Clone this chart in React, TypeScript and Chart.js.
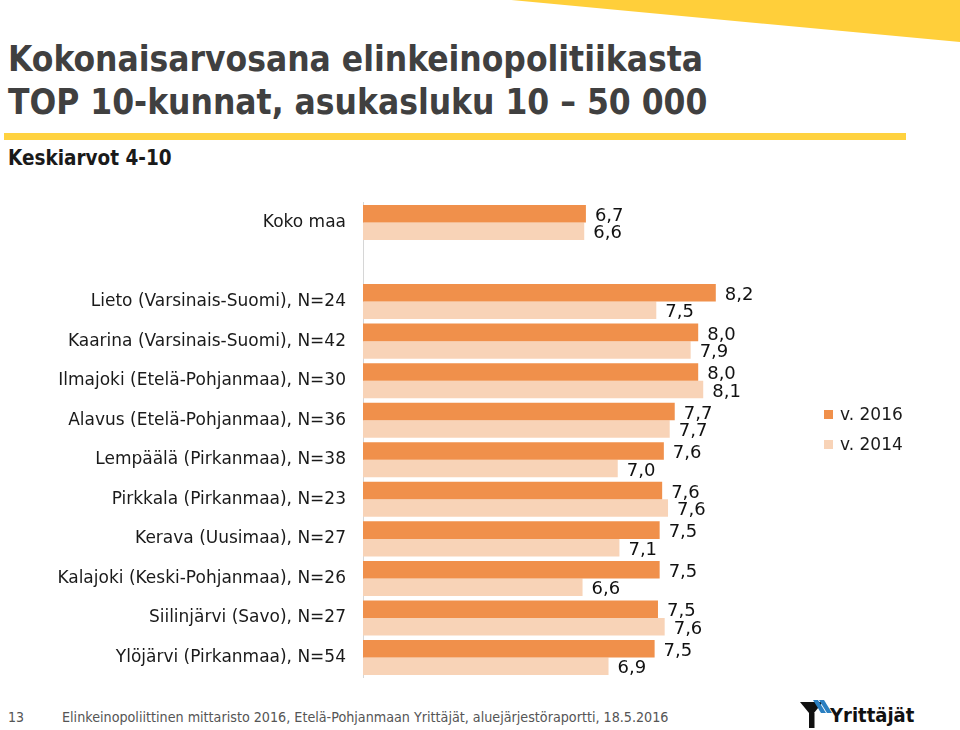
import React, { useEffect, useRef } from "react";
import { Chart, registerables } from "chart.js";

Chart.register(...registerables);

const categories = [
  "Koko maa",
  "",
  "Lieto (Varsinais-Suomi), N=24",
  "Kaarina (Varsinais-Suomi), N=42",
  "Ilmajoki (Etelä-Pohjanmaa), N=30",
  "Alavus (Etelä-Pohjanmaa), N=36",
  "Lempäälä (Pirkanmaa), N=38",
  "Pirkkala (Pirkanmaa), N=23",
  "Kerava (Uusimaa), N=27",
  "Kalajoki (Keski-Pohjanmaa), N=26",
  "Siilinjärvi (Savo), N=27",
  "Ylöjärvi (Pirkanmaa), N=54",
];

const values2016 = [6.66, null, 8.21, 8.0, 8.0, 7.72, 7.59, 7.57, 7.54, 7.54, 7.52, 7.48];
const values2014 = [6.64, null, 7.5, 7.91, 8.06, 7.66, 7.04, 7.64, 7.06, 6.62, 7.6, 6.93];

const seriesNames = ["v. 2016", "v. 2014"];
const seriesColors = ["#F0904B", "#F8D3B7"];

const axisMin = 4;
const axisMax = 9;

const fmt = (v: number) => v.toFixed(1).replace(".", ",");

const valueLabels = {
  id: "valueLabels",
  afterDatasetsDraw(chart: any) {
    const ctx = chart.ctx;
    ctx.save();
    ctx.font = '18px "DejaVu Sans"';
    ctx.fillStyle = "#111111";
    ctx.textBaseline = "middle";
    ctx.textAlign = "left";
    chart.data.datasets.forEach((ds: any, di: number) => {
      chart.getDatasetMeta(di).data.forEach((bar: any, i: number) => {
        const v = ds.data[i];
        if (v == null) return;
        ctx.fillText(fmt(v), bar.x + 9, bar.y + 2.5);
      });
    });
    ctx.restore();
  },
};

function BarChart() {
  const ref = useRef<HTMLCanvasElement | null>(null);
  useEffect(() => {
    if (!ref.current) return;
    const chart = new Chart(ref.current, {
      type: "bar",
      data: {
        labels: categories,
        datasets: [
          {
            label: seriesNames[0],
            data: values2016,
            backgroundColor: seriesColors[0],
            categoryPercentage: 0.885,
            barPercentage: 1,
          },
          {
            label: seriesNames[1],
            data: values2014,
            backgroundColor: seriesColors[1],
            categoryPercentage: 0.885,
            barPercentage: 1,
          },
        ],
      },
      options: {
        indexAxis: "y",
        animation: false,
        responsive: false,
        events: [],
        layout: { padding: { left: 0, right: 178, top: 12.7, bottom: 12.7 } },
        plugins: { legend: { display: false }, tooltip: { enabled: false } },
        scales: {
          x: { min: axisMin, max: axisMax, display: false },
          y: {
            grid: { display: false, drawTicks: false, tickLength: 0 },
            border: { display: true, color: "#d6d6d6", width: 1 },
            ticks: {
              padding: 17,
              color: "#1a1a1a",
              font: { family: "DejaVu Sans", size: 17 },
            },
            afterFit: (s: any) => {
              s.width = 363;
              s.paddingTop = 0;
              s.paddingBottom = 0;
            },
          },
        },
      } as any,
      plugins: [valueLabels],
    });
    return () => chart.destroy();
  }, []);
  return (
    <canvas
      ref={ref}
      width={960}
      height={500}
      style={{ position: "absolute", left: 0, top: 190, width: 960, height: 500 }}
    />
  );
}

export default function App() {
  const abs = (o: any) => ({ position: "absolute", margin: 0, whiteSpace: "nowrap", ...o });
  return (
    <div
      style={{
        position: "absolute",
        left: 0,
        top: 0,
        width: 960,
        height: 730,
        background: "#ffffff",
        overflow: "hidden",
        fontFamily: "DejaVu Sans",
      }}
    >
      <svg width={960} height={730} style={{ position: "absolute", left: 0, top: 0 }}>
        <polygon points="490,-2 960,-2 960,42" fill="#FFCF3A" />
        <rect x={4} y={133} width={902} height={7} fill="#FFD23F" />
        {/* logo icon */}
        <polygon points="800,702 823,702 811.5,716" fill="#111" />
        <rect x={809} y={713} width={5.5} height={15} fill="#111" />
        <polygon points="813,700 818,700 826,713 821,713" fill="#2a7fc1" />
        <polygon points="819,700 824,700 832,713 827,713" fill="#2a7fc1" />
      </svg>
      <div
        style={abs({
          left: 8,
          top: 38,
          fontFamily: "DejaVu Sans Condensed",
          fontWeight: "bold",
          fontSize: 35,
          lineHeight: "43px",
          color: "#404040",
        })}
      >
        Kokonaisarvosana elinkeinopolitiikasta
        <br />
        TOP 10-kunnat, asukasluku 10 – 50 000
      </div>
      <div
        style={abs({
          left: 8,
          top: 146,
          fontFamily: "DejaVu Sans Condensed",
          fontWeight: "bold",
          fontSize: 20.5,
          lineHeight: "24px",
          color: "#1a1a1a",
        })}
      >
        Keskiarvot 4-10
      </div>
      <BarChart />
      <div style={abs({ left: 824, top: 404, fontSize: 17, lineHeight: "20px", color: "#1a1a1a" })}>
        <div style={{ display: "flex", alignItems: "center", height: 20 }}>
          <span style={{ display: "inline-block", width: 9, height: 9, background: seriesColors[0], marginRight: 7 }} />
          {seriesNames[0]}
        </div>
        <div style={{ display: "flex", alignItems: "center", height: 20, marginTop: 10 }}>
          <span style={{ display: "inline-block", width: 9, height: 9, background: seriesColors[1], marginRight: 7 }} />
          {seriesNames[1]}
        </div>
      </div>
      <div
        style={abs({
          left: 8,
          top: 709,
          fontFamily: "DejaVu Sans Condensed",
          fontSize: 14,
          lineHeight: "16px",
          color: "#555",
        })}
      >
        13
      </div>
      <div
        style={abs({
          left: 62,
          top: 709,
          fontFamily: "DejaVu Sans Condensed",
          fontSize: 14.2,
          lineHeight: "16px",
          color: "#555",
        })}
      >
        Elinkeinopoliittinen mittaristo 2016, Etelä-Pohjanmaan Yrittäjät, aluejärjestöraportti, 18.5.2016
      </div>
      <div
        style={abs({
          left: 830,
          top: 703,
          fontFamily: "DejaVu Sans Condensed",
          fontWeight: "bold",
          fontSize: 20,
          lineHeight: "24px",
          color: "#111",
        })}
      >
        Yrittäjät
      </div>
    </div>
  );
}
